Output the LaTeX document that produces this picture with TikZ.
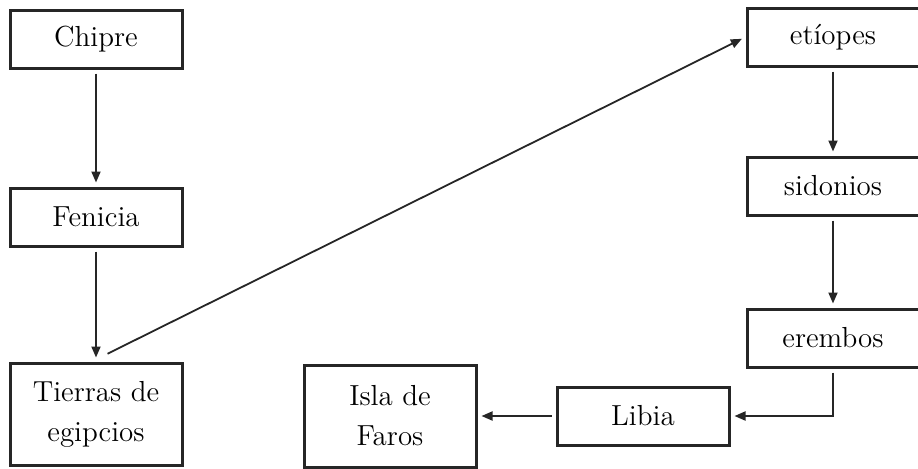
\documentclass[tikz,border=0pt]{standalone}
\usepackage{tikz}
\usetikzlibrary{arrows.meta, positioning}

\begin{document}
\begin{tikzpicture}[
        x=0.5pt, y=-0.5pt,
        place/.style={rectangle, draw=black!85, line width=1.5pt, text centered, minimum width=86pt, minimum height=29pt, inner sep=2pt, font=\fontsize{14.5}{20}\selectfont},
        tallplace/.style={place, minimum height=51pt, align=center},
        route/.style={-{Triangle[length=5.5pt, width=4.5pt]}, line width=0.9pt, black!85, shorten <=2pt, shorten >=2pt},
    ]
        \useasboundingbox (0,0) rectangle (918,468);

        \node[place] (chipre) at (96,39) {Chipre};
        \node[place] (fenicia) at (96,217) {Fenicia};
        \node[tallplace] (tierras) at (96,414) {Tierras de\\egipcios};

        \node[place] (etiopes) at (833,37) {et\'{\i}opes};
        \node[place] (sidonios) at (833,186) {sidonios};
        \node[place] (erembos) at (833,338) {erembos};

        \node[place] (libia) at (643,416) {Libia};
        \node[tallplace] (isla) at (390,416) {Isla de\\Faros};

        \draw[route] (chipre) -- (fenicia);
        \draw[route] (fenicia) -- (tierras);
        \draw[route] ([xshift=4pt, yshift=3pt]tierras.north) -- (etiopes.west);

        \draw[route] (etiopes) -- (sidonios);
        \draw[route] (sidonios) -- (erembos);
        \draw[route] (erembos.south) |- (libia.east);
        \draw[route] (libia) -- (isla);
    \end{tikzpicture}
\end{document}
